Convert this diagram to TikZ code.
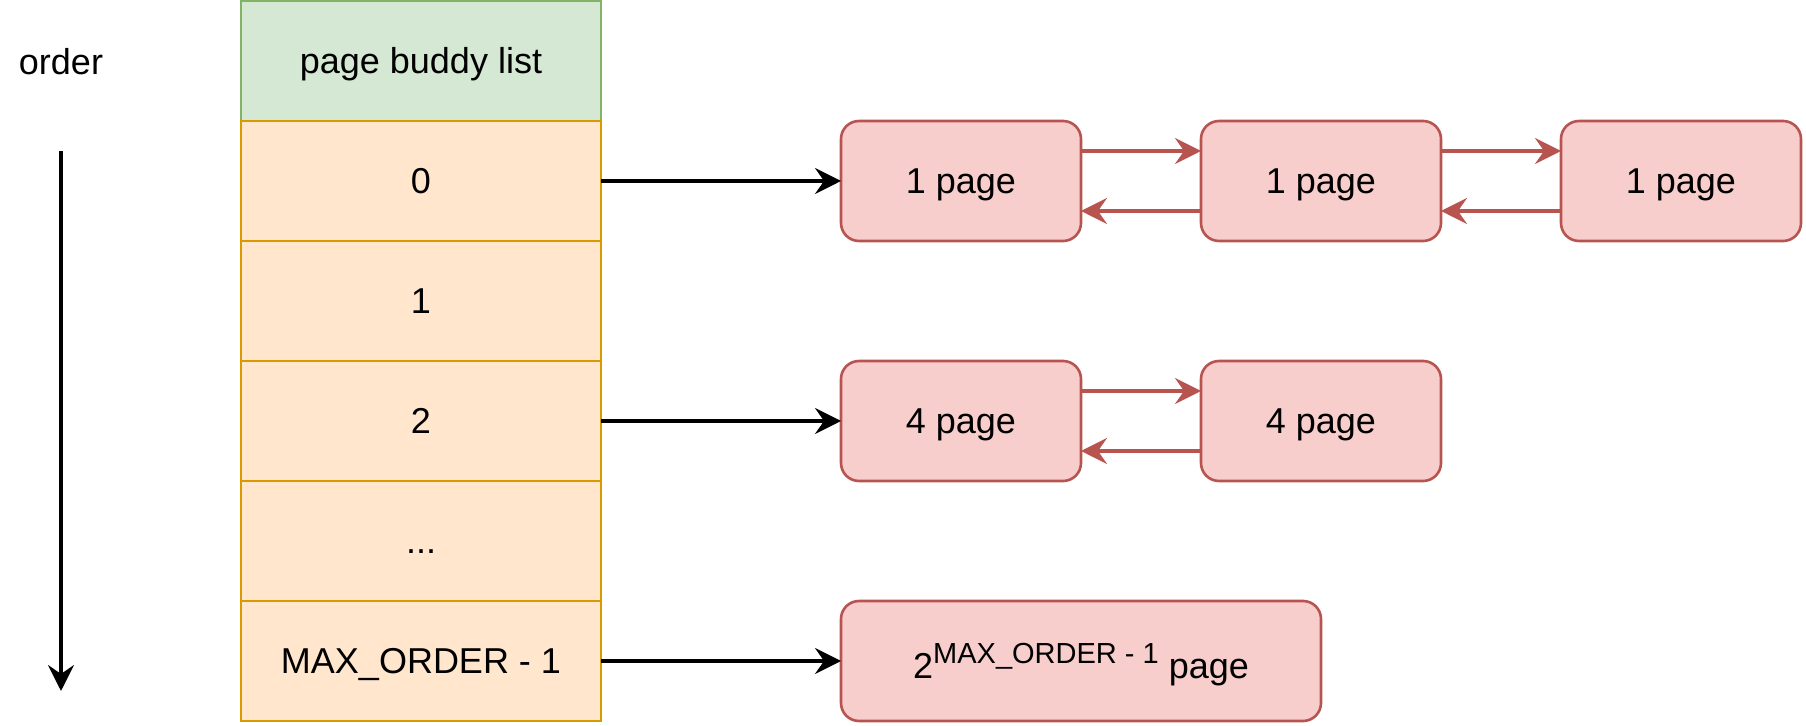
\documentclass[tikz,border=0pt]{standalone}
\usepackage{fontspec}
\setmainfont{Liberation Sans}
\usepackage{xcolor}
\usepackage{tikz}
\usetikzlibrary{arrows.meta,positioning}

\definecolor{headfill}{HTML}{D5E8D4}
\definecolor{headline}{HTML}{82B366}
\definecolor{slotfill}{HTML}{FFE6CC}
\definecolor{slotline}{HTML}{D79B00}
\definecolor{blockfill}{HTML}{F8CECC}
\definecolor{blockline}{HTML}{B85450}

\begin{document}
\begin{tikzpicture}[x=1pt, y=1pt, node distance=60pt, font=\fontsize{18}{21.6}\selectfont,
    every node/.style={text height=13pt, text depth=0pt}]
    \tikzstyle{slot} = [rectangle, draw=slotline, fill=slotfill, line width=1.3pt, minimum width=180pt, minimum height=60pt, inner sep=0pt, outer sep=0pt]
    \tikzstyle{header} = [slot, draw=headline, fill=headfill]
    \tikzstyle{block} = [rectangle, rounded corners=9pt, draw=blockline, fill=blockfill, line width=1.3pt, minimum width=120pt, minimum height=60pt, inner sep=0pt, outer sep=0pt]
    \tikzstyle{link} = [line width=1.6pt, -{Stealth[length=13pt, width=13pt, inset=4.5pt]}]
    \tikzstyle{chain} = [link, draw=blockline]

    \useasboundingbox (-0.5,0.5) rectangle (902.5,-362.5);

    % Order axis
    \node (order) at (30,-30.5) {order};
    \coordinate (top) at (30,-75);
    \coordinate (bottom) at (30,-345);
    \draw[link] (top) -- (bottom);

    % Buddy list
    \node[header] (list) at (210,-30) {page buddy list};
    \node[slot, below=0pt of list] (ord0) {0};
    \node[slot, below=0pt of ord0] (ord1) {1};
    \node[slot, below=0pt of ord1] (ord2) {2};
    \node[slot, below=0pt of ord2] (dots) {...};
    \node[slot, below=0pt of dots] (ordmax) {MAX\_ORDER - 1};

    % Free blocks
    \node[block, right=120pt of ord0] (one1) {1 page};
    \node[block, right=of one1] (one2) {1 page};
    \node[block, right=of one2] (one3) {1 page};
    \node[block, right=120pt of ord2] (four1) {4 page};
    \node[block, right=of four1] (four2) {4 page};
    \node[block, right=120pt of ordmax, minimum width=240pt, text height=17.4pt] (big) {2\raisebox{7.3pt}{\fontsize{14.5}{17}\selectfont MAX\_ORDER - 1} page};

    % Heads
    \draw[link] (ord0) -- (one1);
    \draw[link] (ord2) -- (four1);
    \draw[link] (ordmax) -- (big);

    % Next / prev
    \draw[chain] ([yshift=15pt]one1.east) -- ([yshift=15pt]one2.west);
    \draw[chain] ([yshift=-15pt]one2.west) -- ([yshift=-15pt]one1.east);
    \draw[chain] ([yshift=15pt]one2.east) -- ([yshift=15pt]one3.west);
    \draw[chain] ([yshift=-15pt]one3.west) -- ([yshift=-15pt]one2.east);
    \draw[chain] ([yshift=15pt]four1.east) -- ([yshift=15pt]four2.west);
    \draw[chain] ([yshift=-15pt]four2.west) -- ([yshift=-15pt]four1.east);
\end{tikzpicture}
\end{document}
